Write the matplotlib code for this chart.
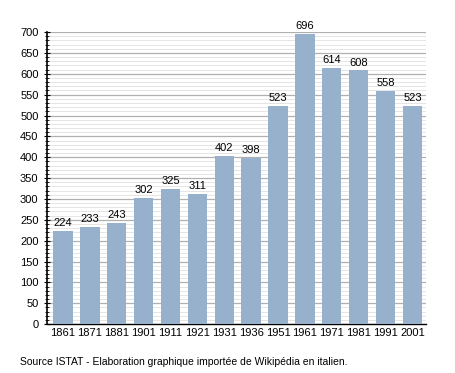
import numpy as np
import matplotlib.pyplot as plt

years = ['1861', '1871', '1881', '1901', '1911', '1921', '1931', '1936',
         '1951', '1961', '1971', '1981', '1991', '2001']
pop = [224, 233, 243, 302, 325, 311, 402, 398, 523, 696, 614, 608, 558, 523]

plt.rcParams['font.family'] = ['Liberation Sans', 'DejaVu Sans']

fig = plt.figure(figsize=(4.55, 3.73), dpi=100)
ax = fig.add_axes([0.103, 0.131, 0.833, 0.783])

x = np.arange(len(years))
ax.bar(x, pop, width=0.72, color='#97b1cd', zorder=3)
for xi, v in zip(x, pop):
    ax.text(xi, v + 7, str(v), ha='center', va='bottom', fontsize=8)

ax.set_xlim(-0.6, len(years) - 0.5)
ax.set_ylim(0, 700)
ax.set_yticks(np.arange(0, 701, 50))
ax.set_yticks(np.arange(0, 701, 10), minor=True)
ax.grid(axis='y', which='major', color='#b0b0b0', linewidth=0.9, zorder=0)
ax.grid(axis='y', which='minor', color='#e0e0e0', linewidth=0.6, zorder=0)
ax.set_xticks(x)
ax.set_xticklabels(years)
ax.tick_params(axis='x', length=0, labelsize=8, pad=3)
ax.tick_params(axis='y', which='major', length=5, labelsize=8, direction='inout')
ax.tick_params(axis='y', which='minor', length=2.5, direction='inout')
for s in ['top', 'right']:
    ax.spines[s].set_visible(False)
ax.spines['left'].set_linewidth(1.2)
ax.spines['bottom'].set_linewidth(1.0)

fig.text(0.044, 0.03, 'Source ISTAT - Elaboration graphique importée de Wikipédia en italien.',
         fontsize=7.5, va='center')

fig.savefig('out.png', dpi=100)
